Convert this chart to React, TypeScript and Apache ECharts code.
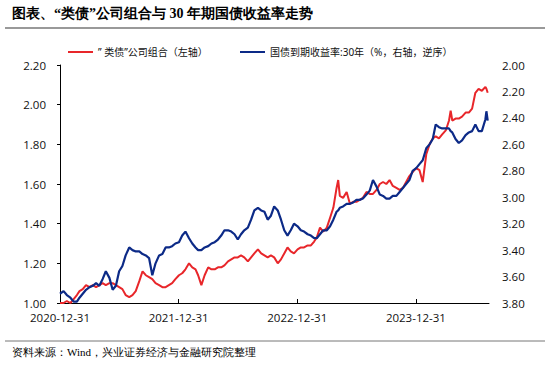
import React, { useEffect, useRef } from 'react';
import * as echarts from 'echarts';

const dates = [
  '2020-12-31','2021-01-11','2021-01-21','2021-02-01','2021-02-11','2021-02-21','2021-03-01','2021-03-11','2021-03-21',
  '2021-04-01','2021-04-11','2021-04-21','2021-05-01','2021-05-11','2021-05-21','2021-06-01','2021-06-11','2021-06-21',
  '2021-07-01','2021-07-11','2021-07-21','2021-08-01','2021-08-11','2021-08-21','2021-09-01','2021-09-11','2021-09-21',
  '2021-10-01','2021-10-11','2021-10-21','2021-11-01','2021-11-11','2021-11-21','2021-12-01','2021-12-11','2021-12-21',
  '2022-01-01','2022-01-11','2022-01-21','2022-02-01','2022-02-11','2022-02-21','2022-03-01','2022-03-11','2022-03-21',
  '2022-04-01','2022-04-11','2022-04-21','2022-05-01','2022-05-11','2022-05-21','2022-06-01','2022-06-11','2022-06-21',
  '2022-07-01','2022-07-11','2022-07-21','2022-08-01','2022-08-11','2022-08-21','2022-09-01','2022-09-11','2022-09-21',
  '2022-10-01','2022-10-11','2022-10-21','2022-11-01','2022-11-11','2022-11-21','2022-12-01','2022-12-11','2022-12-21',
  '2023-01-01','2023-01-11','2023-01-21','2023-02-01','2023-02-11','2023-02-21','2023-03-01','2023-03-11','2023-03-21',
  '2023-04-01','2023-04-11','2023-04-21','2023-05-01','2023-05-06','2023-05-11','2023-05-21','2023-06-01','2023-06-11','2023-06-21',
  '2023-07-01','2023-07-11','2023-07-21','2023-08-01','2023-08-11','2023-08-21','2023-09-01','2023-09-11','2023-09-21',
  '2023-10-01','2023-10-11','2023-10-21','2023-11-01','2023-11-11','2023-11-21','2023-12-01','2023-12-11','2023-12-21',
  '2024-01-01','2024-01-11','2024-01-21','2024-02-01','2024-02-11','2024-02-21','2024-03-01','2024-03-11','2024-03-21',
  '2024-04-01','2024-04-11','2024-04-16','2024-04-21','2024-05-01','2024-05-11','2024-05-21','2024-06-01','2024-06-11','2024-06-21',
  '2024-07-01','2024-07-11','2024-07-21','2024-08-01','2024-08-04','2024-08-08'
];

const portfolio = [
  1.00,1.00,1.01,1.00,1.02,1.04,1.06,1.07,1.09,
  1.08,1.09,1.08,1.09,1.10,1.09,1.10,1.10,1.09,
  1.08,1.07,1.04,1.03,1.04,1.06,1.11,1.16,1.14,
  1.13,1.12,1.10,1.09,1.08,1.08,1.09,1.10,1.12,
  1.14,1.15,1.17,1.20,1.18,1.17,1.14,1.09,1.14,
  1.18,1.17,1.17,1.18,1.18,1.19,1.21,1.22,1.23,
  1.23,1.24,1.23,1.21,1.23,1.25,1.27,1.25,1.24,
  1.23,1.24,1.23,1.20,1.22,1.25,1.28,1.26,1.25,
  1.27,1.28,1.28,1.29,1.29,1.31,1.33,1.38,1.36,
  1.38,1.43,1.48,1.58,1.62,1.54,1.53,1.56,1.50,1.51,
  1.51,1.52,1.53,1.56,1.55,1.55,1.57,1.60,1.61,
  1.60,1.62,1.59,1.58,1.57,1.58,1.61,1.64,1.66,
  1.68,1.67,1.61,1.75,1.80,1.83,1.84,1.83,1.85,
  1.87,1.92,1.97,1.92,1.93,1.93,1.94,1.96,1.96,1.98,
  2.06,2.08,2.07,2.09,2.08,2.06
];

const yield30 = [
  3.73,3.71,3.74,3.76,3.79,3.79,3.76,3.73,3.70,
  3.68,3.67,3.65,3.67,3.62,3.56,3.61,3.70,3.67,
  3.56,3.52,3.44,3.38,3.40,3.41,3.41,3.43,3.44,
  3.46,3.59,3.50,3.44,3.43,3.38,3.38,3.37,3.35,
  3.34,3.29,3.26,3.31,3.35,3.38,3.40,3.40,3.38,
  3.37,3.35,3.34,3.32,3.29,3.25,3.25,3.26,3.28,
  3.32,3.28,3.25,3.23,3.17,3.10,3.08,3.10,3.11,
  3.17,3.14,3.07,3.10,3.17,3.25,3.29,3.25,3.20,
  3.22,3.25,3.26,3.28,3.29,3.31,3.31,3.28,3.25,
  3.25,3.22,3.17,3.11,3.10,3.08,3.07,3.05,3.05,3.04,
  3.02,3.02,3.01,2.98,2.95,2.87,2.92,2.98,2.99,
  3.01,3.01,2.99,2.99,2.96,2.93,2.90,2.87,2.80,
  2.78,2.75,2.72,2.63,2.60,2.56,2.45,2.47,2.48,
  2.48,2.48,2.50,2.51,2.56,2.59,2.57,2.53,2.51,2.50,
  2.45,2.50,2.50,2.41,2.35,2.42
];

const baseDate = '2020-12-31';
const xTickDays = [0, 365, 730, 1095];
const xMaxDays = 1320;
const seriesNames = ['” 类债”公司组合（左轴）', '国债到期收益率:30年（%，右轴，逆序）'];
const titleText = '图表、“类债”公司组合与 30 年期国债收益率走势';
const sourceText = '资料来源：Wind，兴业证券经济与金融研究院整理';

const DAY = 86400000;
const toUTC = (s: string) => {
  const [y, m, d] = s.split('-').map(Number);
  return Date.UTC(y, m - 1, d);
};
const baseUTC = toUTC(baseDate);
const dayOffset = (s: string) => Math.round((toUTC(s) - baseUTC) / DAY);
const fmtDay = (v: number) => {
  const d = new Date(baseUTC + v * DAY);
  const p = (n: number) => String(n).padStart(2, '0');
  return `${d.getUTCFullYear()}-${p(d.getUTCMonth() + 1)}-${p(d.getUTCDate())}`;
};

export default function App() {
  const ref = useRef<HTMLDivElement>(null);
  useEffect(() => {
    if (!ref.current) return;
    const chart = echarts.init(ref.current, undefined, { renderer: 'svg' });
    const axisFont = "'Open Sans', 'Noto Sans', sans-serif";
    const legendFont = "'Noto Sans', 'Noto Sans CJK SC', sans-serif";
    chart.setOption({
      animation: false,
      backgroundColor: '#ffffff',
      grid: { left: 60, right: 61, top: 65, bottom: 62, containLabel: false },
      legend: [
        {
          data: [seriesNames[0]], left: 68, top: 47, padding: 0, icon: 'rect', itemWidth: 25, itemHeight: 2, itemGap: 3,
          textStyle: { fontSize: 10, color: '#111', fontFamily: legendFont }
        },
        {
          data: [seriesNames[1]], left: 240, top: 47, padding: 0, icon: 'rect', itemWidth: 25, itemHeight: 2,
          textStyle: { fontSize: 10, color: '#111', fontFamily: legendFont }
        }
      ],
      xAxis: {
        type: 'value', min: 0, max: xMaxDays, interval: 365,
        axisLine: { show: true, lineStyle: { color: '#000', width: 1 } },
        axisTick: { show: true, inside: true, length: 4, customValues: xTickDays, lineStyle: { color: '#000' } },
        axisLabel: {
          customValues: xTickDays, formatter: (v: number) => fmtDay(v), margin: 8,
          fontSize: 11.5, color: '#111', fontFamily: axisFont
        },
        splitLine: { show: false }
      },
      yAxis: [
        {
          type: 'value', min: 1.0, max: 2.2, interval: 0.2, position: 'left',
          axisLine: { show: true, lineStyle: { color: '#000', width: 1 } },
          axisTick: { show: true, inside: false, length: 3, lineStyle: { color: '#000' } },
          axisLabel: { formatter: (v: number) => v.toFixed(2), margin: 14, fontSize: 11.5, color: '#111', fontFamily: axisFont },
          splitLine: { show: false }
        },
        {
          type: 'value', min: 2.0, max: 3.8, interval: 0.2, position: 'right', inverse: true,
          axisLine: { show: false }, axisTick: { show: false },
          axisLabel: { formatter: (v: number) => v.toFixed(2), margin: 13, fontSize: 11.5, color: '#111', fontFamily: axisFont },
          splitLine: { show: false }
        }
      ],
      series: [
        {
          name: seriesNames[0], type: 'line', yAxisIndex: 0, showSymbol: false, symbol: 'none',
          color: '#e8262a', lineStyle: { width: 2, color: '#e8262a' },
          data: dates.map((d, i) => [dayOffset(d), portfolio[i]]), z: 2
        },
        {
          name: seriesNames[1], type: 'line', yAxisIndex: 1, showSymbol: false, symbol: 'none',
          color: '#0c2a87', lineStyle: { width: 2.2, color: '#0c2a87' },
          data: dates.map((d, i) => [dayOffset(d), yield30[i]]), z: 3
        }
      ],
      graphic: [
        {
          type: 'text', left: 12, top: 6,
          style: { text: titleText, fontSize: 14, fontWeight: 'bold', fill: '#000', fontFamily: 'serif' }
        },
        { type: 'line', shape: { x1: 5, y1: 28, x2: 545, y2: 28 }, style: { stroke: '#999', lineWidth: 2 } },
        { type: 'line', shape: { x1: 5, y1: 341, x2: 545, y2: 341 }, style: { stroke: '#777', lineWidth: 1 } },
        {
          type: 'text', left: 12, top: 346,
          style: { text: sourceText, fontSize: 11, fill: '#000', fontFamily: 'serif' }
        }
      ]
    });
    return () => chart.dispose();
  }, []);
  return <div ref={ref} style={{ position: 'fixed', left: 0, top: 0, width: 550, height: 365 }} />;
}
